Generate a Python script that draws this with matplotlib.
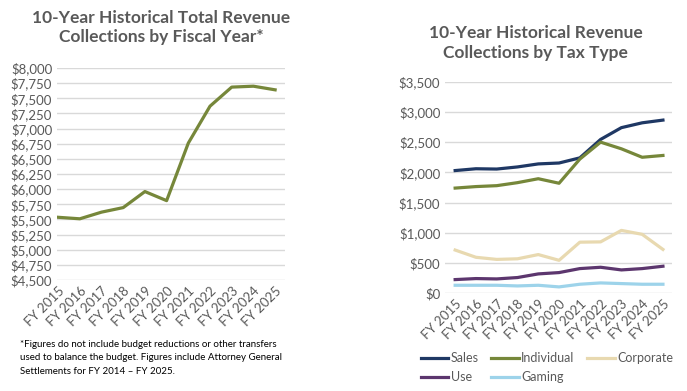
import matplotlib
matplotlib.use('Agg')
import matplotlib.pyplot as plt
from matplotlib.ticker import FuncFormatter

plt.rcParams['font.family'] = ['Lato', 'DejaVu Sans']

# Données
annees = ['FY 2015', 'FY 2016', 'FY 2017', 'FY 2018', 'FY 2019', 'FY 2020',
          'FY 2021', 'FY 2022', 'FY 2023', 'FY 2024', 'FY 2025']
total = [5535, 5510, 5620, 5695, 5960, 5810, 6760, 7370, 7685, 7700, 7640]

sales = [2030, 2060, 2055, 2090, 2140, 2155, 2240, 2545, 2740, 2820, 2865]
individual = [1740, 1765, 1780, 1830, 1895, 1820, 2220, 2500, 2390, 2250, 2280]
corporate = [715, 595, 560, 570, 640, 545, 845, 850, 1040, 975, 725]
use = [226, 243, 237, 260, 320, 342, 408, 430, 386, 408, 447]
gaming = [132, 132, 132, 121, 132, 105, 149, 171, 160, 149, 149]

gris = '#595959'
grille = '#D9D9D9'
dollars = FuncFormatter(lambda v, p: f"${v:,.0f}")

fig = plt.figure(figsize=(6.87, 3.91), dpi=100)
x = list(range(len(annees)))


def style_axe(ax):
    for s in ax.spines.values():
        s.set_visible(False)
    ax.grid(True, axis='y', color=grille, linewidth=1)
    ax.set_axisbelow(True)
    ax.tick_params(axis='both', length=0, colors=gris, labelsize=9.5)
    ax.yaxis.set_major_formatter(dollars)
    ax.set_xticks(x)
    ax.set_xticklabels(annees, rotation=45, ha='right', rotation_mode='anchor')


# Graphique de gauche : revenu total
ax1 = fig.add_axes([0.083, 0.284, 0.332, 0.542])
ax1.plot(x, total, color='#76873A', linewidth=2.3)
ax1.set_ylim(4500, 8000)
ax1.set_yticks(range(4500, 8001, 250))
ax1.set_xlim(-0.05, 10.46)
style_axe(ax1)
fig.text(0.235, 0.975, "10-Year Historical Total Revenue\nCollections by Fiscal Year*",
         ha='center', va='top', fontsize=12.5, fontweight='bold', color=gris, linespacing=1.25)

fig.text(0.029, 0.13, "*Figures do not include budget reductions or other transfers\n"
         "used to balance the budget. Figures include Attorney General\n"
         "Settlements for FY 2014 \u2013 FY 2025.",
         ha='left', va='top', fontsize=7, color='black', linespacing=1.6)

# Graphique de droite : par type de taxe
ax2 = fig.add_axes([0.648, 0.250, 0.330, 0.541])
l_sales, = ax2.plot(x, sales, color='#1F3864', linewidth=2.3, label='Sales')
l_ind, = ax2.plot(x, individual, color='#76873A', linewidth=2.3, label='Individual')
l_corp, = ax2.plot(x, corporate, color='#E8D9B0', linewidth=2.3, label='Corporate')
l_use, = ax2.plot(x, use, color='#5C366E', linewidth=2.3, label='Use')
l_gam, = ax2.plot(x, gaming, color='#9DD3EA', linewidth=2.3, label='Gaming')
ax2.set_ylim(0, 3500)
ax2.set_yticks(range(0, 3501, 500))
ax2.set_xlim(-0.48, 10.43)
style_axe(ax2)
fig.text(0.78, 0.935, "10-Year Historical Revenue\nCollections by Tax Type",
         ha='center', va='top', fontsize=12.5, fontweight='bold', color=gris, linespacing=1.25)

# ordre pour remplir les lignes : Sales, Individual, Corporate / Use, Gaming
poignees = [l_sales, l_use, l_ind, l_gam, l_corp]
fig.legend(poignees, [h.get_label() for h in poignees],
           loc='upper left', bbox_to_anchor=(0.605, 0.112), ncol=3, frameon=False,
           fontsize=9, labelcolor=gris, handlelength=2.2, handletextpad=0.2,
           columnspacing=1.0, borderaxespad=0, labelspacing=0.55)

fig.savefig('out.png', dpi=100)
